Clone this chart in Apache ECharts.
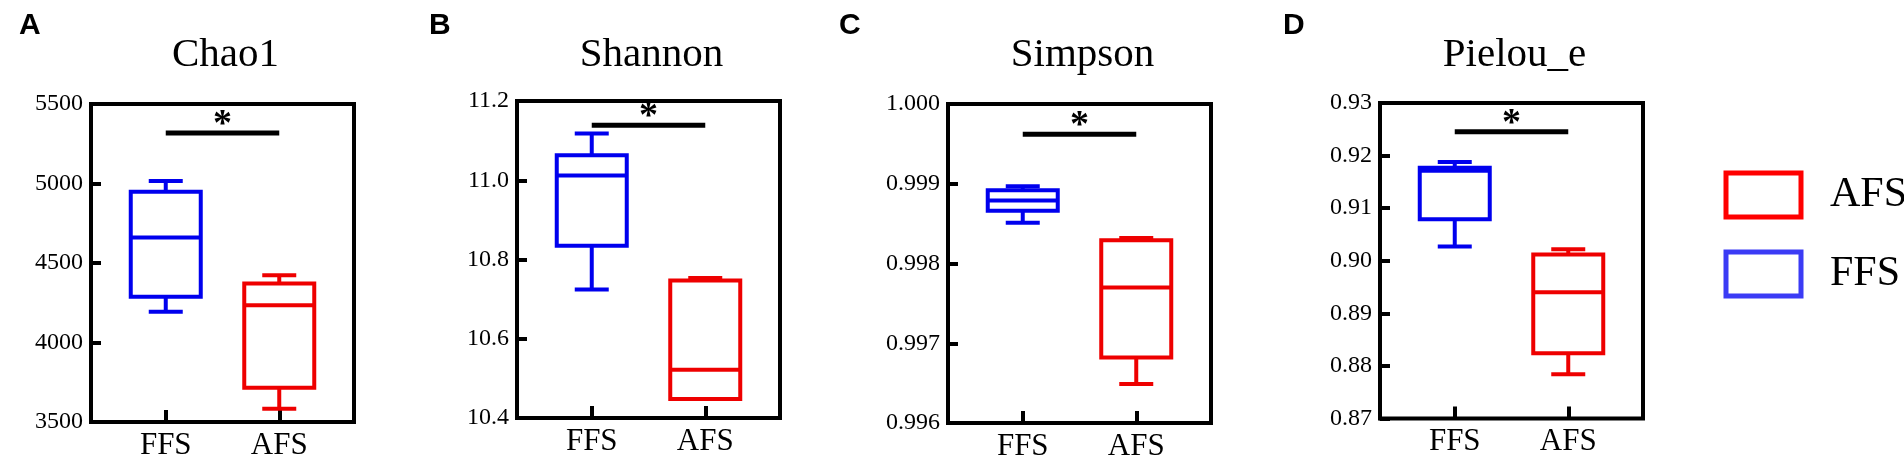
<!DOCTYPE html>
<html>
<head>
<meta charset="utf-8">
<script src="https://cdn.jsdelivr.net/npm/echarts@6/dist/echarts.min.js"></script>
<style>
  html, body { margin: 0; padding: 0; background: #fff; }
  #main { width: 1904px; height: 462px; }
</style>
</head>
<body>
<div id="main"></div>
<script>
const groups = ['FFS', 'AFS'];
const panelTitles = ['Chao1', 'Shannon', 'Simpson', 'Pielou_e'];
const panelLetters = ['A', 'B', 'C', 'D'];

// box stats: [min, Q1, median, Q3, max]
const chao1FFS = [4193, 4287, 4661, 4948, 5015];
const chao1AFS = [3584, 3716, 4235, 4371, 4423];
const shannonFFS = [10.724, 10.835, 11.012, 11.063, 11.118];
const shannonAFS = [10.448, 10.448, 10.522, 10.747, 10.753];
const simpsonFFS = [0.99851, 0.99866, 0.99879, 0.99892, 0.99897];
const simpsonAFS = [0.99649, 0.99682, 0.99770, 0.99829, 0.99832];
const pielouFFS = [0.9027, 0.9079, 0.9171, 0.9177, 0.9188];
const pielouAFS = [0.8784, 0.8824, 0.8940, 0.9012, 0.9022];

// y tick labels
const chao1Ticks = [3500, 4000, 4500, 5000, 5500];
const shannonTicks = [10.4, 10.6, 10.8, 11.0, 11.2];
const simpsonTicks = [0.996, 0.997, 0.998, 0.999, 1.000];
const pielouTicks = [0.87, 0.88, 0.89, 0.90, 0.91, 0.92, 0.93];
const tickDecimals = [0, 1, 3, 2];

// height of the significance bar in each panel
const sigLevels = [5318, 11.139, 0.99962, 0.92452];

const ffsData = [chao1FFS, shannonFFS, simpsonFFS, pielouFFS];
const afsData = [chao1AFS, shannonAFS, simpsonAFS, pielouAFS];
const ticks = [chao1Ticks, shannonTicks, simpsonTicks, pielouTicks];

// layout
const frameLeft = [91, 517, 948, 1380];
const frameTop = [104, 101, 104, 103];
const frameBottom = [422, 418, 423, 418.5];
const frameW = 263;
const inset = 18;
const BOX_W = 70;
const CAP_W = 34;
const SERIF = 'Liberation Serif';
const BLUE = '#0000ee';
const RED = '#ee0000';

const chart = echarts.init(document.getElementById('main'));

function renderBox(params, api) {
  const x = api.value(0);
  const p = [1, 2, 3, 4, 5].map(i => api.coord([x, api.value(i)]));
  const cx = p[0][0];
  const h = BOX_W / 2, c = CAP_W / 2;
  const st = { stroke: api.visual('color'), lineWidth: 4, fill: 'none' };
  return {
    type: 'group',
    children: [
      { type: 'line', shape: { x1: cx, y1: p[3][1], x2: cx, y2: p[4][1] }, style: st },
      { type: 'line', shape: { x1: cx, y1: p[1][1], x2: cx, y2: p[0][1] }, style: st },
      { type: 'line', shape: { x1: cx - c, y1: p[4][1], x2: cx + c, y2: p[4][1] }, style: st },
      { type: 'line', shape: { x1: cx - c, y1: p[0][1], x2: cx + c, y2: p[0][1] }, style: st },
      { type: 'rect', shape: { x: cx - h, y: p[3][1], width: BOX_W, height: p[1][1] - p[3][1] }, style: st },
      { type: 'line', shape: { x1: cx - h, y1: p[2][1], x2: cx + h, y2: p[2][1] }, style: st }
    ]
  };
}

function renderSig(params, api) {
  const a = api.coord([0, api.value(1)]);
  const b = api.coord([1, api.value(1)]);
  return {
    type: 'group',
    children: [
      { type: 'line', shape: { x1: a[0], y1: a[1], x2: b[0], y2: b[1] },
        style: { stroke: '#000', lineWidth: 5 } },
      { type: 'text', x: (a[0] + b[0]) / 2, y: a[1] - 8,
        style: { text: '*', font: 'bold 38px "' + SERIF + '"', fill: '#000',
                 textAlign: 'center', textVerticalAlign: 'middle' } }
    ]
  };
}

const grid = [], xAxis = [], yAxis = [], series = [], title = [];

for (let i = 0; i < 4; i++) {
  const t = ticks[i];
  const height = frameBottom[i] - frameTop[i];
  grid.push({ left: frameLeft[i], top: frameTop[i], width: frameW, height: height,
    show: true, borderColor: '#000', borderWidth: 4, backgroundColor: 'transparent' });
  xAxis.push({ gridIndex: i, type: 'value', show: false });
  yAxis.push({
    gridIndex: i, type: 'value',
    min: t[0], max: t[t.length - 1], interval: t[1] - t[0],
    axisLine: { show: true, lineStyle: { color: '#000', width: 4 } },
    axisTick: { show: true, inside: true, length: 10, lineStyle: { color: '#000', width: 4 } },
    splitLine: { show: false },
    axisLabel: { color: '#000', fontFamily: SERIF, fontSize: 24, margin: 8,
      formatter: v => v.toFixed(tickDecimals[i]) }
  });
  title.push({ text: panelTitles[i], left: frameLeft[i] + frameW / 2 - 2, top: 30, textAlign: 'center',
    textStyle: { fontFamily: SERIF, fontSize: 41, fontWeight: 'normal', color: '#000' } });
}
const letterLeft = [14, 424, 834, 1278];
for (let i = 0; i < 4; i++) {
  title.push({ text: panelLetters[i], left: letterLeft[i], top: 6,
    textStyle: { fontFamily: 'Liberation Sans', fontSize: 30, fontWeight: 'bold', color: '#000' } });
}

for (let i = 0; i < 4; i++) {
  const t = ticks[i];
  const height = frameBottom[i] - frameTop[i];
  grid.push({ left: frameLeft[i] + inset, top: frameTop[i], width: frameW - 2 * inset, height: height });
  xAxis.push({
    gridIndex: 4 + i, type: 'category', data: groups, boundaryGap: true,
    axisLine: { show: false },
    axisTick: { show: true, inside: true, alignWithLabel: true, length: 12,
      lineStyle: { color: '#000', width: 4 } },
    axisLabel: { color: '#000', fontFamily: SERIF, fontSize: 31, margin: 8 }
  });
  yAxis.push({ gridIndex: 4 + i, type: 'value', show: false,
    min: t[0], max: t[t.length - 1], interval: t[1] - t[0] });

  series.push({
    name: 'FFS', type: 'custom', xAxisIndex: 4 + i, yAxisIndex: 4 + i,
    itemStyle: { color: BLUE }, renderItem: renderBox, silent: true,
    encode: { x: 0, y: [1, 2, 3, 4, 5] },
    data: [[0].concat(ffsData[i])]
  });
  series.push({
    name: 'AFS', type: 'custom', xAxisIndex: 4 + i, yAxisIndex: 4 + i,
    itemStyle: { color: RED }, renderItem: renderBox, silent: true,
    encode: { x: 0, y: [1, 2, 3, 4, 5] },
    data: [[1].concat(afsData[i])]
  });
  series.push({
    name: 'sig', type: 'custom', xAxisIndex: 4 + i, yAxisIndex: 4 + i,
    renderItem: renderSig, silent: true,
    encode: { x: 0, y: 1 },
    data: [[0, sigLevels[i]]]
  });
}

chart.setOption({
  animation: false,
  title: title,
  grid: grid,
  xAxis: xAxis,
  yAxis: yAxis,
  legend: {
    orient: 'vertical', left: 1718.5, top: 165.5,
    icon: 'rect', itemWidth: 75, itemHeight: 44, itemGap: 30,
    selectedMode: false,
    textStyle: { fontFamily: SERIF, fontSize: 42, color: '#000', lineHeight: 44, padding: [0, 0, 0, 24] },
    data: [
      { name: 'AFS', itemStyle: { color: '#fff', borderColor: '#ff0000', borderWidth: 5 } },
      { name: 'FFS', itemStyle: { color: '#fff', borderColor: '#3b3bf5', borderWidth: 5 } }
    ]
  },
  series: series
});
</script>
</body>
</html>
